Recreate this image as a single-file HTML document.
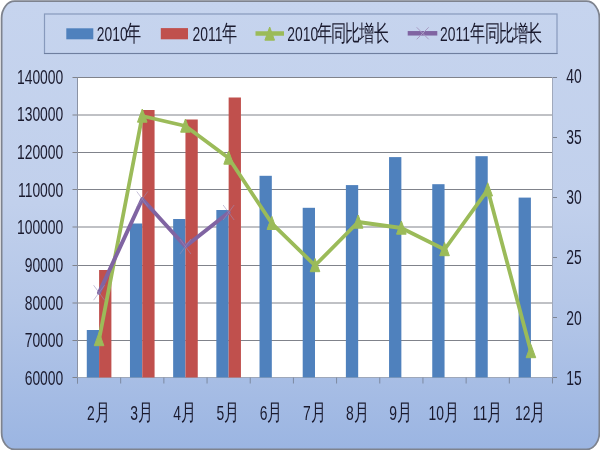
<!DOCTYPE html><html><head><meta charset="utf-8"><style>
html,body{margin:0;padding:0;background:#fff;width:600px;height:450px;overflow:hidden}
svg{display:block;will-change:transform}
text{font-family:"Liberation Sans",sans-serif;fill:#1a1a2e}
.cj{font-size:22px}
.cl{font-size:22px;letter-spacing:-1.4px}
</style></head><body>
<svg width="600" height="450" viewBox="0 0 600 450">
<defs>
<linearGradient id="bg" x1="0" y1="0" x2="0" y2="1">
<stop offset="0" stop-color="#c6d4ee"/>
<stop offset="0.45" stop-color="#c1d0ec"/>
<stop offset="0.67" stop-color="#b5c7e8"/>
<stop offset="1" stop-color="#9bb5e2"/>
</linearGradient>
</defs>

<rect x="1.6" y="1.2" width="597.8" height="448.3" rx="13" ry="17" fill="url(#bg)" stroke="#7e838e" stroke-width="1.8"/>
<rect x="44.5" y="14" width="512.5" height="39.5" fill="none" stroke="#8799bc" stroke-width="1.2"/>
<line x1="44" y1="53.5" x2="557.5" y2="53.5" stroke="#6f7f9f" stroke-width="1"/>
<rect x="77.5" y="77.5" width="475.0" height="300.0" fill="#ffffff"/>
<line x1="72.5" y1="77.50" x2="552.5" y2="77.50" stroke="#80838b" stroke-width="1"/>
<line x1="72.5" y1="115.00" x2="552.5" y2="115.00" stroke="#80838b" stroke-width="1"/>
<line x1="72.5" y1="152.50" x2="552.5" y2="152.50" stroke="#80838b" stroke-width="1"/>
<line x1="72.5" y1="189.50" x2="552.5" y2="189.50" stroke="#80838b" stroke-width="1"/>
<line x1="72.5" y1="227.00" x2="552.5" y2="227.00" stroke="#80838b" stroke-width="1"/>
<line x1="72.5" y1="265.50" x2="552.5" y2="265.50" stroke="#80838b" stroke-width="1"/>
<line x1="72.5" y1="303.00" x2="552.5" y2="303.00" stroke="#80838b" stroke-width="1"/>
<line x1="72.5" y1="340.50" x2="552.5" y2="340.50" stroke="#80838b" stroke-width="1"/>
<line x1="72.5" y1="377.50" x2="552.5" y2="377.50" stroke="#80838b" stroke-width="1"/>
<line x1="552.5" y1="77.50" x2="557.0" y2="77.50" stroke="#7d8494" stroke-width="1"/>
<line x1="552.5" y1="137.50" x2="557.0" y2="137.50" stroke="#7d8494" stroke-width="1"/>
<line x1="552.5" y1="197.50" x2="557.0" y2="197.50" stroke="#7d8494" stroke-width="1"/>
<line x1="552.5" y1="257.50" x2="557.0" y2="257.50" stroke="#7d8494" stroke-width="1"/>
<line x1="552.5" y1="317.50" x2="557.0" y2="317.50" stroke="#7d8494" stroke-width="1"/>
<line x1="552.5" y1="377.50" x2="557.0" y2="377.50" stroke="#7d8494" stroke-width="1"/>
<line x1="77.5" y1="77.5" x2="77.5" y2="383.5" stroke="#8a92a4" stroke-width="1"/>
<line x1="552.5" y1="77.5" x2="552.5" y2="382.5" stroke="#a0a9bc" stroke-width="1"/>
<line x1="77.5" y1="377.5" x2="552.5" y2="377.5" stroke="#9ea8ba" stroke-width="1"/>
<line x1="77.50" y1="377.5" x2="77.50" y2="383.5" stroke="#7d89a0" stroke-width="1"/>
<line x1="120.68" y1="377.5" x2="120.68" y2="383.5" stroke="#7d89a0" stroke-width="1"/>
<line x1="163.86" y1="377.5" x2="163.86" y2="383.5" stroke="#7d89a0" stroke-width="1"/>
<line x1="207.05" y1="377.5" x2="207.05" y2="383.5" stroke="#7d89a0" stroke-width="1"/>
<line x1="250.23" y1="377.5" x2="250.23" y2="383.5" stroke="#7d89a0" stroke-width="1"/>
<line x1="293.41" y1="377.5" x2="293.41" y2="383.5" stroke="#7d89a0" stroke-width="1"/>
<line x1="336.59" y1="377.5" x2="336.59" y2="383.5" stroke="#7d89a0" stroke-width="1"/>
<line x1="379.77" y1="377.5" x2="379.77" y2="383.5" stroke="#7d89a0" stroke-width="1"/>
<line x1="422.95" y1="377.5" x2="422.95" y2="383.5" stroke="#7d89a0" stroke-width="1"/>
<line x1="466.14" y1="377.5" x2="466.14" y2="383.5" stroke="#7d89a0" stroke-width="1"/>
<line x1="509.32" y1="377.5" x2="509.32" y2="383.5" stroke="#7d89a0" stroke-width="1"/>
<line x1="552.50" y1="377.5" x2="552.50" y2="383.5" stroke="#7d89a0" stroke-width="1"/>
<rect x="86.79" y="330" width="12.3" height="47.50" fill="#4f81bd"/>
<rect x="129.97" y="223.5" width="12.3" height="154.00" fill="#4f81bd"/>
<rect x="173.15" y="219" width="12.3" height="158.50" fill="#4f81bd"/>
<rect x="216.34" y="210" width="12.3" height="167.50" fill="#4f81bd"/>
<rect x="259.52" y="175.8" width="12.3" height="201.70" fill="#4f81bd"/>
<rect x="302.70" y="207.8" width="12.3" height="169.70" fill="#4f81bd"/>
<rect x="345.88" y="185.1" width="12.3" height="192.40" fill="#4f81bd"/>
<rect x="389.06" y="157.1" width="12.3" height="220.40" fill="#4f81bd"/>
<rect x="432.25" y="184.2" width="12.3" height="193.30" fill="#4f81bd"/>
<rect x="475.43" y="156.2" width="12.3" height="221.30" fill="#4f81bd"/>
<rect x="518.61" y="197.6" width="12.3" height="179.90" fill="#4f81bd"/>
<rect x="99.09" y="270" width="12.3" height="107.50" fill="#c0504d"/>
<rect x="142.27" y="110" width="12.3" height="267.50" fill="#c0504d"/>
<rect x="185.45" y="119.5" width="12.3" height="258.00" fill="#c0504d"/>
<rect x="228.64" y="97.5" width="12.3" height="280.00" fill="#c0504d"/>
<polyline points="99.09,339.5 142.27,116 185.45,126 228.64,158 271.82,223.3 315.00,265.5 358.18,222 401.36,228 444.55,249.5 487.73,189.8 530.91,351.5" fill="none" stroke="#9bbb59" stroke-width="3.8" stroke-linejoin="round" stroke-linecap="round"/>
<path d="M99.09,332.50 L103.89,345.70 L94.29,345.70 Z" fill="#9bbb59" stroke="#9bbb59" stroke-width="1" stroke-linejoin="round"/>
<path d="M142.27,109.00 L147.07,122.20 L137.47,122.20 Z" fill="#9bbb59" stroke="#9bbb59" stroke-width="1" stroke-linejoin="round"/>
<path d="M185.45,119.00 L190.25,132.20 L180.65,132.20 Z" fill="#9bbb59" stroke="#9bbb59" stroke-width="1" stroke-linejoin="round"/>
<path d="M228.64,151.00 L233.44,164.20 L223.84,164.20 Z" fill="#9bbb59" stroke="#9bbb59" stroke-width="1" stroke-linejoin="round"/>
<path d="M271.82,216.30 L276.62,229.50 L267.02,229.50 Z" fill="#9bbb59" stroke="#9bbb59" stroke-width="1" stroke-linejoin="round"/>
<path d="M315.00,258.50 L319.80,271.70 L310.20,271.70 Z" fill="#9bbb59" stroke="#9bbb59" stroke-width="1" stroke-linejoin="round"/>
<path d="M358.18,215.00 L362.98,228.20 L353.38,228.20 Z" fill="#9bbb59" stroke="#9bbb59" stroke-width="1" stroke-linejoin="round"/>
<path d="M401.36,221.00 L406.16,234.20 L396.56,234.20 Z" fill="#9bbb59" stroke="#9bbb59" stroke-width="1" stroke-linejoin="round"/>
<path d="M444.55,242.50 L449.35,255.70 L439.75,255.70 Z" fill="#9bbb59" stroke="#9bbb59" stroke-width="1" stroke-linejoin="round"/>
<path d="M487.73,182.80 L492.53,196.00 L482.93,196.00 Z" fill="#9bbb59" stroke="#9bbb59" stroke-width="1" stroke-linejoin="round"/>
<path d="M530.91,344.50 L535.71,357.70 L526.11,357.70 Z" fill="#9bbb59" stroke="#9bbb59" stroke-width="1" stroke-linejoin="round"/>
<polyline points="99.09,292.7 142.27,199 185.45,246.5 228.64,212.5" fill="none" stroke="#8064a2" stroke-width="4" stroke-linejoin="round" stroke-linecap="round"/>
<path d="M93.59,285.20 L104.59,300.20 M104.59,285.20 L93.59,300.20" stroke="#9a90bb" stroke-width="0.8" fill="none" opacity="0.7"/>
<path d="M136.77,191.50 L147.77,206.50 M147.77,191.50 L136.77,206.50" stroke="#9a90bb" stroke-width="0.8" fill="none" opacity="0.7"/>
<path d="M179.95,239.00 L190.95,254.00 M190.95,239.00 L179.95,254.00" stroke="#9a90bb" stroke-width="0.8" fill="none" opacity="0.7"/>
<path d="M223.14,205.00 L234.14,220.00 M234.14,205.00 L223.14,220.00" stroke="#9a90bb" stroke-width="0.8" fill="none" opacity="0.7"/>
<text transform="translate(63.3,83.80) scale(0.695,1)" text-anchor="end" font-size="20">140000</text>
<text transform="translate(63.3,121.45) scale(0.695,1)" text-anchor="end" font-size="20">130000</text>
<text transform="translate(63.3,159.10) scale(0.695,1)" text-anchor="end" font-size="20">120000</text>
<text transform="translate(63.3,196.75) scale(0.695,1)" text-anchor="end" font-size="20">110000</text>
<text transform="translate(63.3,234.40) scale(0.695,1)" text-anchor="end" font-size="20">100000</text>
<text transform="translate(63.3,272.05) scale(0.695,1)" text-anchor="end" font-size="20">90000</text>
<text transform="translate(63.3,309.70) scale(0.695,1)" text-anchor="end" font-size="20">80000</text>
<text transform="translate(63.3,347.35) scale(0.695,1)" text-anchor="end" font-size="20">70000</text>
<text transform="translate(63.3,385.00) scale(0.695,1)" text-anchor="end" font-size="20">60000</text>
<text transform="translate(566.3,83.30) scale(0.695,1)" font-size="20">40</text>
<text transform="translate(566.3,143.60) scale(0.695,1)" font-size="20">35</text>
<text transform="translate(566.3,203.90) scale(0.695,1)" font-size="20">30</text>
<text transform="translate(566.3,264.20) scale(0.695,1)" font-size="20">25</text>
<text transform="translate(566.3,324.50) scale(0.695,1)" font-size="20">20</text>
<text transform="translate(566.3,384.80) scale(0.695,1)" font-size="20">15</text>
<text transform="translate(94.71,420.00) scale(0.695,1)" text-anchor="end" font-size="20">2</text>
<text transform="translate(94.71,419.50) scale(0.66,1)" font-size="23" letter-spacing="0">月</text>
<text transform="translate(137.89,420.00) scale(0.695,1)" text-anchor="end" font-size="20">3</text>
<text transform="translate(137.89,419.50) scale(0.66,1)" font-size="23" letter-spacing="0">月</text>
<text transform="translate(181.07,420.00) scale(0.695,1)" text-anchor="end" font-size="20">4</text>
<text transform="translate(181.07,419.50) scale(0.66,1)" font-size="23" letter-spacing="0">月</text>
<text transform="translate(224.25,420.00) scale(0.695,1)" text-anchor="end" font-size="20">5</text>
<text transform="translate(224.25,419.50) scale(0.66,1)" font-size="23" letter-spacing="0">月</text>
<text transform="translate(267.43,420.00) scale(0.695,1)" text-anchor="end" font-size="20">6</text>
<text transform="translate(267.43,419.50) scale(0.66,1)" font-size="23" letter-spacing="0">月</text>
<text transform="translate(310.62,420.00) scale(0.695,1)" text-anchor="end" font-size="20">7</text>
<text transform="translate(310.62,419.50) scale(0.66,1)" font-size="23" letter-spacing="0">月</text>
<text transform="translate(353.80,420.00) scale(0.695,1)" text-anchor="end" font-size="20">8</text>
<text transform="translate(353.80,419.50) scale(0.66,1)" font-size="23" letter-spacing="0">月</text>
<text transform="translate(396.98,420.00) scale(0.695,1)" text-anchor="end" font-size="20">9</text>
<text transform="translate(396.98,419.50) scale(0.66,1)" font-size="23" letter-spacing="0">月</text>
<text transform="translate(444.03,420.00) scale(0.695,1)" text-anchor="end" font-size="20">10</text>
<text transform="translate(444.03,419.50) scale(0.66,1)" font-size="23" letter-spacing="0">月</text>
<text transform="translate(487.21,420.00) scale(0.695,1)" text-anchor="end" font-size="20">11</text>
<text transform="translate(487.21,419.50) scale(0.66,1)" font-size="23" letter-spacing="0">月</text>
<text transform="translate(530.39,420.00) scale(0.695,1)" text-anchor="end" font-size="20">12</text>
<text transform="translate(530.39,419.50) scale(0.66,1)" font-size="23" letter-spacing="0">月</text>
<rect x="66.3" y="28.3" width="27" height="11" fill="#4f81bd"/>
<text transform="translate(96.70,41.00) scale(0.695,1)" font-size="20">2010</text>
<text transform="translate(126.00,41.20) scale(0.66,1)" font-size="23" letter-spacing="0">年</text>
<rect x="160.8" y="28.1" width="27.2" height="11.2" fill="#c0504d"/>
<text transform="translate(192.50,41.00) scale(0.695,1)" font-size="20">2011</text>
<text transform="translate(221.80,41.20) scale(0.66,1)" font-size="23" letter-spacing="0">年</text>
<line x1="255.5" y1="33.5" x2="284" y2="33.5" stroke="#9bbb59" stroke-width="4.5"/>
<path d="M269.70,27.00 L274.50,40.20 L264.90,40.20 Z" fill="#9bbb59" stroke="#9bbb59" stroke-width="1" stroke-linejoin="round"/>
<text transform="translate(287.30,41.00) scale(0.695,1)" font-size="20">2010</text>
<text transform="translate(316.50,41.20) scale(0.66,1)" font-size="23" letter-spacing="-0.8">年同比增长</text>
<line x1="407.7" y1="33.3" x2="437.3" y2="33.3" stroke="#8064a2" stroke-width="4.5"/>
<path d="M416.7,27.3 L428.7,39.3 M428.7,27.3 L416.7,39.3" stroke="#a89cc4" stroke-width="1" fill="none"/>
<text transform="translate(440.00,41.00) scale(0.695,1)" font-size="20">2011</text>
<text transform="translate(470.30,41.20) scale(0.66,1)" font-size="23" letter-spacing="-0.8">年同比增长</text>
</svg></body></html>
